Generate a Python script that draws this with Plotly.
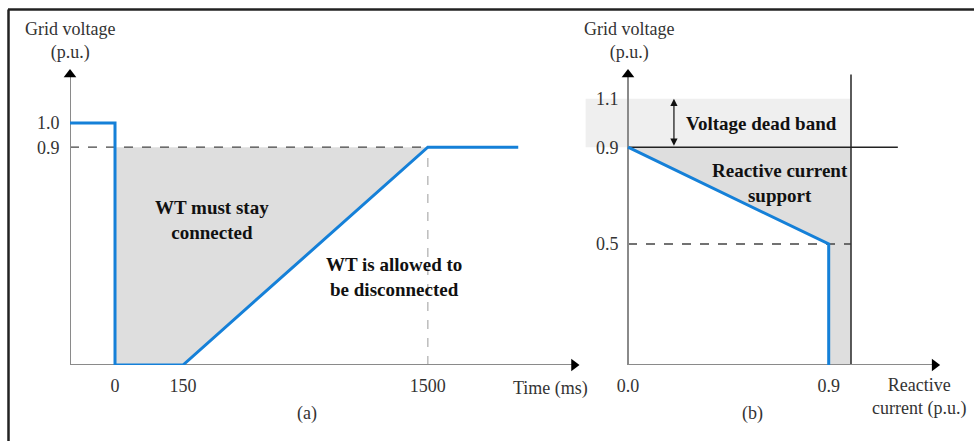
import plotly.graph_objects as go

# ---------------- data ----------------
# Panel (a): LVRT curve (schematic, non-linear time axis)
a_time_labels = ["0", "150", "1500"]
a_time_pos = [0.0, 1.0, 4.6]          # schematic positions of the time ticks
a_x_start = -0.662                    # y-axis position
a_x_end = 5.93                        # end of the blue curve
a_curve_x = [a_x_start, 0.0, 0.0, 1.0, 4.6, a_x_end]
a_curve_y = [1.0, 1.0, 0.0, 0.0, 0.9, 0.9]
a_vtick_vals = [0.9, 1.0]
a_vtick_labels = ["0.9", "1.0"]

# Panel (b): reactive current support
b_curve_x = [0.0, 0.9, 0.9]
b_curve_y = [0.9, 0.5, 0.0]
b_itick_vals = [0.0, 0.9]
b_itick_labels = ["0.0", "0.9"]
b_vtick_vals = [0.5, 0.9, 1.1]
b_vtick_labels = ["0.5", "0.9", "1.1"]
b_band = [0.9, 1.1]          # voltage dead band
b_limit = 1.0                # vertical limit line

# ---------------- styles ----------------
W, H = 974, 441
FONT = "Liberation Serif"
BLUE = "#1580d8"
GRAYFILL = "#dedede"
BANDFILL = "#efefef"
AXISGRAY = "#8a8a8a"
TXT = "#333333"
PX_PER_UNIT_Y = 242

fig = go.Figure()

def line(x, y, xa, ya, color, width, dash="solid"):
    fig.add_trace(go.Scatter(x=x, y=y, xaxis=xa, yaxis=ya, mode="lines",
                             line=dict(color=color, width=width, dash=dash),
                             hoverinfo="skip", showlegend=False))

def poly(x, y, xa, ya, color):
    fig.add_trace(go.Scatter(x=x, y=y, xaxis=xa, yaxis=ya, mode="lines",
                             fill="toself", fillcolor=color, line=dict(width=0),
                             hoverinfo="skip", showlegend=False))

def marker(x, y, xa, ya, sym):
    fig.add_trace(go.Scatter(x=[x], y=[y], xaxis=xa, yaxis=ya, mode="markers",
                             marker=dict(symbol=sym, size=11, color="#000000"),
                             hoverinfo="skip", showlegend=False, cliponaxis=False))

# ---- panel (a) ----
poly([a_curve_x[2], a_curve_x[2], a_curve_x[4], a_curve_x[3]],
     [0, a_curve_y[4], a_curve_y[4], 0], "x", "y", GRAYFILL)
line([a_x_start, a_curve_x[4]], [0.9, 0.9], "x", "y", "#444444", 1.3, "dash")
line([a_curve_x[4], a_curve_x[4]], [0, 0.9], "x", "y", "#bdbdbd", 1.5, "dash")
line([a_x_start, 6.75], [0, 0], "x", "y", AXISGRAY, 2)
line([a_x_start, a_x_start], [0, 1.2], "x", "y", AXISGRAY, 2)
line(a_curve_x, a_curve_y, "x", "y", BLUE, 3)
marker(6.75, 0, "x", "y", "triangle-right")
marker(a_x_start, 1.2, "x", "y", "triangle-up")

# ---- panel (b) ----
poly([-0.19, b_limit, b_limit, -0.19], [b_band[0], b_band[0], b_band[1], b_band[1]],
     "x2", "y2", BANDFILL)
poly([0, b_limit, b_limit, b_curve_x[2], b_curve_x[1], b_curve_x[0]],
     [b_band[0], b_band[0], 0, 0, b_curve_y[1], b_curve_y[0]], "x2", "y2", GRAYFILL)
line([0, b_limit], [0.5, 0.5], "x2", "y2", "#444444", 1.3, "dash")
line([b_limit, b_limit], [0, 1.2], "x2", "y2", "#333333", 1.6)
line([0, 1.21], [0.9, 0.9], "x2", "y2", "#222222", 1.6)
line([0, 1.375], [0, 0], "x2", "y2", AXISGRAY, 2)
line([0, 0], [0, 1.2], "x2", "y2", AXISGRAY, 2)
line(b_curve_x, b_curve_y, "x2", "y2", BLUE, 3)
marker(1.375, 0, "x2", "y2", "triangle-right")
marker(0, 1.2, "x2", "y2", "triangle-up")

# ---------------- layout ----------------
ydom = [1 - 365 / H, 1.0]
yrange = [0, 365 / PX_PER_UNIT_Y]
tickfont = dict(family=FONT, size=18, color=TXT)
common_x = dict(showgrid=False, zeroline=False, showline=False, ticks="outside",
                ticklen=4, tickcolor="rgba(0,0,0,0)", tickfont=tickfont)
common_y = dict(showgrid=False, zeroline=False, showline=False, ticks="outside",
                ticklen=6, tickcolor="rgba(0,0,0,0)", tickfont=tickfont,
                domain=ydom, range=yrange)

fig.update_layout(
    width=W, height=H, margin=dict(l=0, r=0, t=0, b=0),
    paper_bgcolor="white", plot_bgcolor="rgba(0,0,0,0)",
    showlegend=False,
    xaxis=dict(domain=[70 / W, 600 / W], range=[a_x_start, (600 - 115) / 68],
               tickvals=a_time_pos, ticktext=a_time_labels, anchor="y", **common_x),
    yaxis=dict(tickvals=a_vtick_vals, ticktext=a_vtick_labels, anchor="x", **common_y),
    xaxis2=dict(domain=[575 / W, 965 / W], range=[(575 - 628) / 223, (965 - 628) / 223],
                tickvals=b_itick_vals, ticktext=b_itick_labels, anchor="y2", **common_x),
    yaxis2=dict(tickvals=b_vtick_vals, ticktext=b_vtick_labels, anchor="free",
                position=628 / W, **common_y),
)

def note(text, x, y, xref, yref, bold=False, size=18, xshift=0, yshift=0, color=TXT):
    fig.add_annotation(text=f"<b>{text}</b>" if bold else text, x=x, y=y,
                       xref=xref, yref=yref, showarrow=False, xshift=xshift, yshift=yshift,
                       font=dict(family=FONT, size=size, color=color), align="center")

# axis titles (placed above the arrow tips)
title_y = (365 - 41) / PX_PER_UNIT_Y
note("Grid voltage<br>(p.u.)", a_x_start + 0.001, title_y, "x", "y")
note("Grid voltage<br>(p.u.)", 0.005, title_y, "x2", "y2")
note("Time (ms)", 6.4, 0, "x", "y", yshift=-23)
note("Reactive<br>current (p.u.)", 1.305, 0, "x2", "y2", yshift=-32)
note("(a)", 2.82, 0, "x", "y", yshift=-48)
note("(b)", 0.557, 0, "x2", "y2", yshift=-48)

# region labels
note("WT must stay<br>connected", 1.43, 0.60, "x", "y", bold=True, size=19, color="#111111")
note("WT is allowed to<br>be disconnected", 4.10, 0.364, "x", "y", bold=True, size=19, color="#111111")
note("Voltage dead band", 0.60, 1.0, "x2", "y2", bold=True, size=19, color="#111111")
note("Reactive current<br>support", 0.68, 0.754, "x2", "y2", bold=True, size=19, color="#111111")

# dead band double arrow
fig.add_annotation(x=0.206, y=b_band[1], ax=0.206, ay=b_band[0], xref="x2", yref="y2",
                   axref="x2", ayref="y2", showarrow=True, text="",
                   arrowhead=2, startarrowhead=2, arrowside="end+start",
                   arrowsize=1.2, startarrowsize=1.2, arrowwidth=1.2, arrowcolor="#111111",
                   standoff=0, startstandoff=0)

# frame (top and left border)
fig.add_shape(type="line", xref="paper", yref="paper", x0=8 / W, x1=1.0,
              y0=1 - 9.5 / H, y1=1 - 9.5 / H, line=dict(color="#222222", width=2.5))
fig.add_shape(type="line", xref="paper", yref="paper", x0=8.5 / W, x1=8.5 / W,
              y0=0, y1=1 - 9.5 / H, line=dict(color="#222222", width=2.5))

fig.write_html("out.html", config={"displayModeBar": False},
               post_script="document.body.style.margin='0';document.body.style.overflow='hidden';")
